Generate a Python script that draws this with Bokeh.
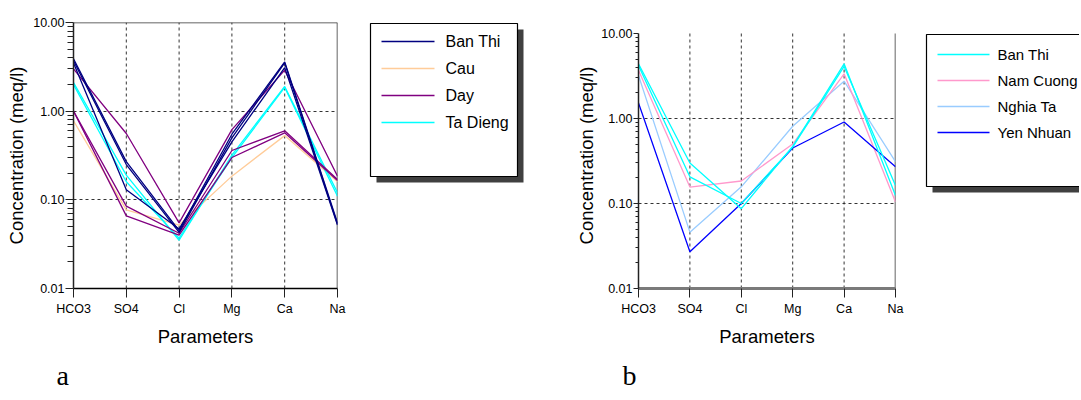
from bokeh.plotting import figure
from bokeh.layouts import row
from bokeh.models import Range1d, FixedTicker, PrintfTickFormatter, Title
from bokeh.core.properties import value
from bokeh.embed import file_html
from bokeh.resources import INLINE

FONT = "Liberation Sans"

# ---------------- data ----------------
params = ["HCO3", "SO4", "Cl", "Mg", "Ca", "Na"]
y_major = [0.01, 0.1, 1.0, 10.0]

# panel a
a_stations = ["Ban Thi", "Cau", "Day", "Ta Dieng"]
a_colors = ["#000080", "#ffcc99", "#800080", "#00ffff"]
a_ban_thi = [
    [3.9, 0.27, 0.045, 0.55, 3.6, 0.055],
    [3.7, 0.25, 0.043, 0.50, 3.5, 0.053],
    [3.5, 0.13, 0.047, 0.45, 3.1, 0.052],
]
a_cau = [
    [0.78, 0.077, 0.052, 0.185, 0.53, 0.16],
]
a_day = [
    [3.0, 0.56, 0.055, 0.62, 2.9, 0.185],
    [1.0, 0.085, 0.042, 0.36, 0.60, 0.17],
    [1.0, 0.066, 0.040, 0.30, 0.57, 0.165],
]
a_ta_dieng = [
    [2.1, 0.19, 0.035, 0.32, 1.9, 0.12],
    [2.0, 0.16, 0.037, 0.30, 1.85, 0.11],
]

# panel b
b_stations = ["Ban Thi", "Nam Cuong", "Nghia Ta", "Yen Nhuan"]
b_colors = ["#00ffff", "#ff99cc", "#99ccff", "#0000ff"]
b_ban_thi = [
    [4.4, 0.30, 0.087, 0.47, 4.4, 0.124],
    [4.2, 0.206, 0.10, 0.46, 4.1, 0.163],
]
b_nam_cuong = [
    [3.7, 0.156, 0.184, 0.50, 3.36, 0.104],
]
b_nghia_ta = [
    [3.2, 0.046, 0.157, 0.81, 2.75, 0.31],
]
b_yen_nhuan = [
    [1.52, 0.027, 0.10, 0.45, 0.91, 0.27],
]

# ---------------- layout ----------------
H = 398
TOP = 22          # common frame top (frames in a row are aligned)
BOTTOM = 288      # common frame bottom
BB = H - BOTTOM


def make_panel(width, bl, br, y_end, tick_out, ylab_standoff, xaxis_color, xaxis_width,
               boxed, letter, letter_dx):
    x_idx = list(range(len(params)))
    p = figure(width=width, height=H, y_axis_type="log",
               x_range=Range1d(x_idx[0], x_idx[-1]), y_range=Range1d(y_major[0], y_end),
               output_backend="svg", toolbar_location=None,
               min_border_left=bl, min_border_right=br, min_border_top=TOP, min_border_bottom=BB)
    p.background_fill_color = "white"
    p.border_fill_color = "white"
    # x axis
    xa = p.xaxis[0]
    xa.ticker = FixedTicker(ticks=x_idx)
    xa.major_label_overrides = {i: n for i, n in enumerate(params)}
    xa.major_tick_out = 9
    xa.major_tick_in = 0
    xa.minor_tick_out = 0
    xa.major_label_standoff = 4
    xa.axis_line_color = xaxis_color
    xa.axis_line_width = xaxis_width
    xa.major_tick_line_color = "#222222"
    xa.axis_label = "Parameters"
    xa.axis_label_standoff = 7
    # y axis
    ya = p.yaxis[0]
    minor = [k * d for d in y_major[:-1] for k in range(2, 10)]
    ya.ticker = FixedTicker(ticks=y_major, minor_ticks=minor)
    ya.formatter = PrintfTickFormatter(format="%.2f")
    ya.bounds = (y_major[0], y_major[-1])
    ya.major_tick_out = tick_out
    ya.major_tick_in = 0
    ya.minor_tick_out = tick_out - 2
    ya.minor_tick_in = 0
    ya.major_label_standoff = 1
    ya.axis_line_color = "#222222"
    ya.axis_line_width = 1.5
    ya.major_tick_line_color = "#222222"
    ya.minor_tick_line_color = "#222222"
    ya.axis_label = "Concentration (meq/l)"
    ya.axis_label_standoff = ylab_standoff
    for ax in (xa, ya):
        ax.major_label_text_font = FONT
        ax.major_label_text_font_size = "12.5px"
        ax.major_label_text_color = "black"
        ax.axis_label_text_font = FONT
        ax.axis_label_text_font_size = "18.5px"
        ax.axis_label_text_font_style = "normal"
        ax.axis_label_text_color = "black"
    # grids: horizontal dashed at inner decades, vertical dashed at inner parameters
    p.xgrid.visible = False
    p.ygrid.ticker = FixedTicker(ticks=y_major[1:-1])
    p.ygrid.grid_line_color = "#333333"
    p.ygrid.grid_line_dash = "3 3"
    inner = x_idx[1:-1]
    p.segment(x0=inner, x1=inner, y0=[y_major[0]] * len(inner), y1=[y_major[-1]] * len(inner),
              line_color="#333333", line_dash="3 3", line_width=1)
    p.outline_line_color = None
    # right edge (and top edge for the boxed panel)
    p.segment(x0=[x_idx[-1]], x1=[x_idx[-1]], y0=[y_major[0]], y1=[y_major[-1]],
              line_color="#333333", line_width=1.5)
    if boxed:
        p.segment(x0=[x_idx[0]], x1=[x_idx[-1]], y0=[y_major[-1]], y1=[y_major[-1]],
                  line_color="#333333", line_width=1.5)
    p.add_layout(Title(text=letter, align="left", offset=letter_dx, standoff=16,
                       text_font="Liberation Serif", text_font_size="28px",
                       text_font_style="normal", text_color="black"), "below")
    return p, x_idx


def add_series(p, x_idx, rows, color):
    p.multi_line(xs=[x_idx] * len(rows), ys=rows, line_color=color, line_width=1.3)


def make_legend(x0, width, box, names, colors, row0, row_step, lx0, lx1, tx, fs):
    lg = figure(width=width, height=H, x_range=Range1d(x0, x0 + width), y_range=Range1d(BOTTOM, TOP),
                output_backend="svg", toolbar_location=None,
                x_axis_location=None, y_axis_location=None,
                min_border_left=0, min_border_right=0, min_border_top=TOP, min_border_bottom=BB)
    lg.grid.visible = False
    lg.outline_line_color = None
    l, r, t, b = box
    lg.quad(left=l + 6, right=r + 6, top=t + 6, bottom=b + 6, fill_color="#404040", line_color=None)
    lg.quad(left=l, right=r, top=t, bottom=b, fill_color="white", line_color="black", line_width=1.2)
    ys = [row0 + i * row_step for i in range(len(names))]
    lg.segment(x0=[lx0] * len(names), x1=[lx1] * len(names), y0=ys, y1=ys,
               line_color=colors, line_width=1.5)
    lg.text(x=[tx] * len(names), y=ys, text=names, text_baseline="middle", text_align="left",
            text_font=value(FONT), text_font_size=fs, text_color="black")
    return lg


# panel a  (page x 0..350, frame 73..337)
pa, xa_idx = make_panel(350, 73, 13, y_major[-1], 8, 3, "black", 1.5, True, "a", -17)
add_series(pa, xa_idx, a_cau, a_colors[1])
add_series(pa, xa_idx, a_ta_dieng, a_colors[3])
add_series(pa, xa_idx, a_day, a_colors[2])
add_series(pa, xa_idx, a_ban_thi, a_colors[0])
la = make_legend(350, 210, (370, 517, 23, 176), a_stations, a_colors, 41, 27, 381, 434, 445, "16px")

# panel b  (page x 560..915, frame 638..895); decade = 85 px, 0.01 at frame bottom
b_decade_px = 85.0
b_y_end = 10 ** (-2 + (BOTTOM - TOP) / b_decade_px)
pb, xb_idx = make_panel(355, 78, 20, b_y_end, 5, 1, "#7a7a7a", 3, False, "b", -16)
add_series(pb, xb_idx, b_nghia_ta, b_colors[2])
add_series(pb, xb_idx, b_nam_cuong, b_colors[1])
add_series(pb, xb_idx, b_yen_nhuan, b_colors[3])
add_series(pb, xb_idx, b_ban_thi, b_colors[0])
lb = make_legend(915, 164, (926, 1120, 34, 186), b_stations, b_colors, 54, 26, 937, 989, 997, "15px")

layout = row(pa, la, pb, lb)
open("out.html", "w").write(file_html(layout, INLINE))
